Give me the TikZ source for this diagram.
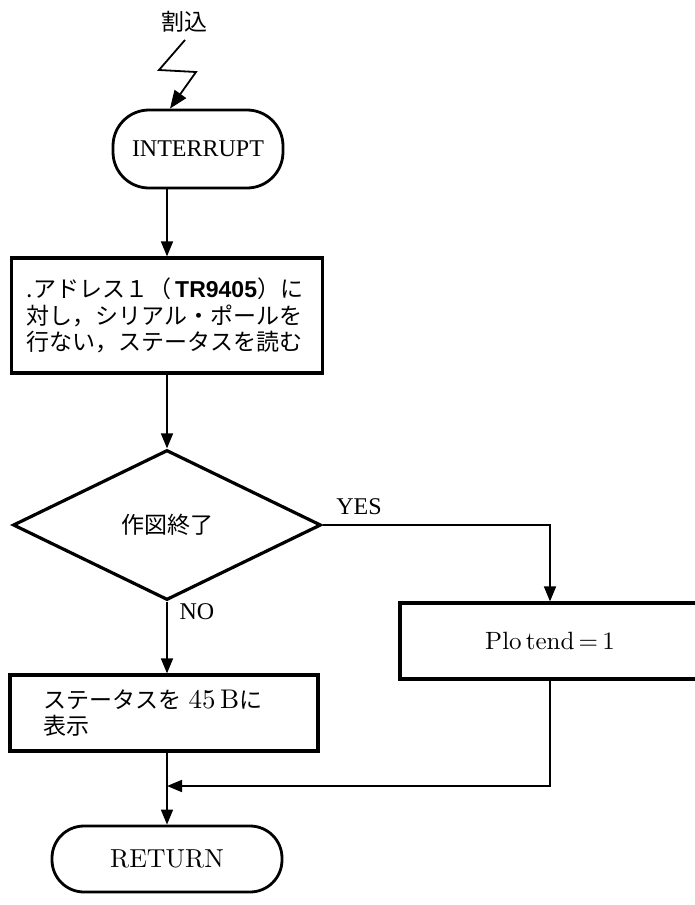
\documentclass[tikz,border=0pt]{standalone}
\usepackage{fontspec}
\newfontfamily\jpf{Noto Sans CJK JP}
\newfontfamily\tmsf{Liberation Serif}
\newfontfamily\hvf{Liberation Sans}
\newfontfamily\lmten{lmroman10-regular.otf}
\usetikzlibrary{shapes.geometric,arrows.meta}
\begin{document}
\begin{tikzpicture}[x=1pt,y=-1pt,
  boxs/.style={draw, line width=3.2pt, rectangle, inner sep=0pt},
  term/.style={draw, line width=2.8pt, rectangle, rounded corners=36pt, inner sep=0pt},
  dia/.style={draw, line width=3.2pt, diamond, inner sep=0pt},
  flow/.style={line width=1.6pt, -{Triangle[length=15pt,width=12pt]}},
  jp/.style={font=\jpf\fontsize{23}{26.5}\selectfont},
  tms/.style={font=\tmsf\fontsize{24}{28}\selectfont},
  lmr/.style={font=\lmten\fontsize{25}{28}\selectfont}]
\useasboundingbox (0,0) rectangle (695,905);
% nodes
\node[jp] (t) at (184,22) {割込};
\node[term, tms, minimum width=170, minimum height=78] (intr) at (198,149) {INTERRUPT};
\node[boxs, jp, minimum width=311, minimum height=115, text width=280, align=left] (b1) at (167,315.5)
  {.アドレス１（\,{\hvf\bfseries TR9405}）に\\対し，シリアル・ポールを\\行ない，ステータスを読む};
\node[dia, jp, minimum width=308, minimum height=150] (d) at (167,525) {作図終了};
\node[tms] (yes) at (359,507) {YES};
\node[tms] (no) at (197,612) {NO};
\node[boxs, lmr, minimum width=300, minimum height=76] (pb) at (550,641) {Plo\,tend\,=\,1};
\node[boxs, jp, minimum width=308, minimum height=76, text width=242, align=left] (b45) at (164,713)
  {ステータスを {\lmten\fontsize{27}{27}\selectfont 45\,B}に\\表示};
\node[term, lmr, minimum width=230, minimum height=66, rounded corners=32pt] (ret) at (167,859)
  {\fontsize{26}{28}\selectfont RETURN};
% lightning
\coordinate (z0) at (185,40);
\coordinate (z1) at (159,70);
\coordinate (z2) at (196,72);
\coordinate (z3) at (170,0);
\draw[line width=1.8pt, -{Triangle[length=18pt,width=14pt]}] (z0) -- (z1) -- (z2) -- (intr.north -| z3);
% connectors
\draw[flow] (b1.north |- intr.south) -- (b1.north);
\draw[flow] (b1.south) -- (d.north);
\draw[flow] (d.east) -- (d.east -| pb.north) -- (pb.north);
\draw[flow] (d.south) -- (d.south |- b45.north);
\coordinate (m) at (167,786);
\draw[flow] (pb.south) -- (pb.south |- m) -- (m);
\draw[flow] (m |- b45.south) -- (ret.north);
\end{tikzpicture}
\end{document}
